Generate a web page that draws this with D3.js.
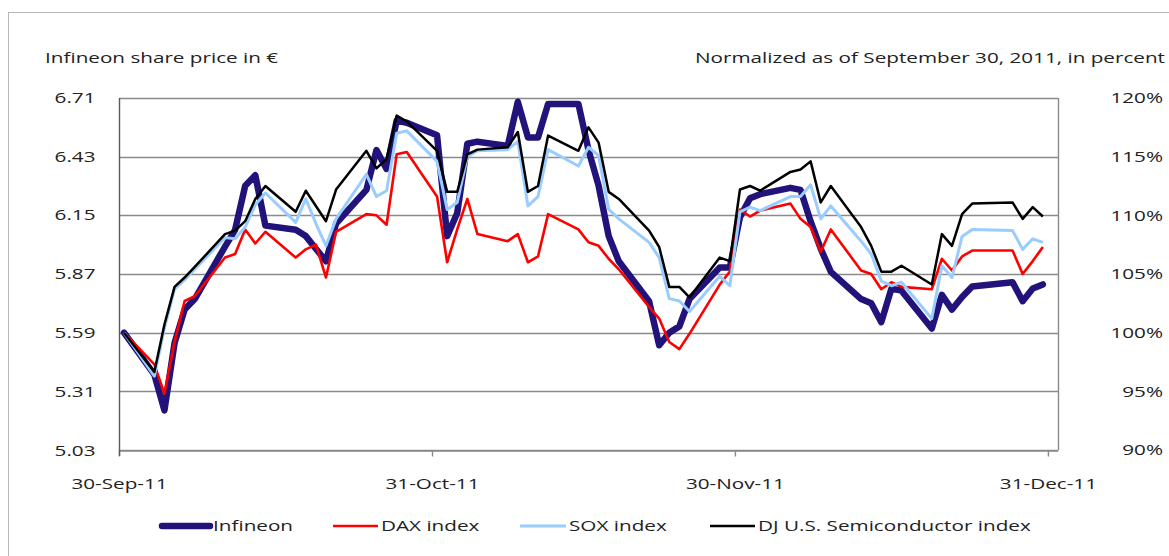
<!DOCTYPE html>
<html>
<head>
<meta charset="utf-8">
<script src="https://cdn.jsdelivr.net/npm/d3@7"></script>
<style>
  html, body { margin: 0; padding: 0; background: #fff; }
  svg { display: block; }
  text { font-family: "Open Sans", "Liberation Sans", sans-serif; font-size: 15px; fill: #222; }
</style>
</head>
<body>
<svg id="chart" width="1169" height="556"></svg>
<script>
// ---------- DATA ----------
const dates = [
  "2011-09-30",
  "2011-10-03","2011-10-04","2011-10-05","2011-10-06","2011-10-07",
  "2011-10-10","2011-10-11","2011-10-12","2011-10-13","2011-10-14",
  "2011-10-17","2011-10-18","2011-10-19","2011-10-20","2011-10-21",
  "2011-10-24","2011-10-25","2011-10-26","2011-10-27","2011-10-28",
  "2011-10-31","2011-11-01","2011-11-02","2011-11-03","2011-11-04",
  "2011-11-07","2011-11-08","2011-11-09","2011-11-10","2011-11-11",
  "2011-11-14","2011-11-15","2011-11-16","2011-11-17","2011-11-18",
  "2011-11-21","2011-11-22","2011-11-23","2011-11-24","2011-11-25",
  "2011-11-28","2011-11-29","2011-11-30","2011-12-01","2011-12-02",
  "2011-12-05","2011-12-06","2011-12-07","2011-12-08","2011-12-09",
  "2011-12-12","2011-12-13","2011-12-14","2011-12-15","2011-12-16",
  "2011-12-19","2011-12-20","2011-12-21","2011-12-22","2011-12-23",
  "2011-12-27","2011-12-28","2011-12-29","2011-12-30"
];
// Infineon share price in EUR (left axis)
const infineon = [
  5.59,
  5.39,5.22,5.54,5.70,5.75,
  6.00,6.08,6.29,6.34,6.10,
  6.08,6.05,5.99,5.93,6.11,
  6.27,6.46,6.37,6.60,6.59,
  6.53,6.05,6.16,6.49,6.50,
  6.48,6.69,6.52,6.52,6.68,
  6.68,6.46,6.29,6.05,5.93,
  5.74,5.53,5.59,5.62,5.75,
  5.90,5.90,6.14,6.23,6.25,
  6.28,6.27,6.12,5.99,5.88,
  5.75,5.73,5.64,5.80,5.79,
  5.61,5.77,5.70,5.76,5.81,
  5.83,5.74,5.80,5.82
];
// Normalized indices in percent (right axis)
const dax = [
  100,
  97.3,94.8,99.2,102.7,103.1,
  106.4,106.7,108.8,107.6,108.6,
  106.4,107.1,107.5,104.7,108.6,
  110.1,110.0,109.2,115.2,115.4,
  111.6,106.0,108.8,111.4,108.4,
  107.8,108.4,106.0,106.5,110.1,
  108.8,107.7,107.4,106.3,105.4,
  102.2,101.2,99.2,98.6,99.9,
  104.1,105.2,110.5,109.9,110.4,
  111.0,109.7,109.0,106.9,108.8,
  105.3,105.0,103.7,104.3,103.9,
  103.7,106.3,105.3,106.5,107.0,
  107.0,105.0,106.1,107.3
];
const sox = [
  100,
  96.3,100.4,103.7,104.5,105.4,
  108.1,108.0,109.0,110.9,111.9,
  109.4,111.4,109.3,107.4,109.7,
  113.5,111.6,112.1,117.0,117.2,
  114.6,110.5,111.1,115.0,115.5,
  115.6,116.3,110.8,111.6,115.6,
  114.2,115.8,115.1,110.5,109.7,
  107.7,106.4,102.9,102.7,101.8,
  104.8,104.0,110.3,110.7,110.4,
  111.6,111.6,112.6,109.7,110.8,
  107.8,106.7,104.4,104.0,104.3,
  101.2,105.7,104.7,108.2,108.8,
  108.7,107.1,108.0,107.7
];
const djus = [
  100,
  96.65,100.7,103.9,104.7,105.6,
  108.4,108.7,109.5,111.4,112.5,
  110.3,112.1,110.8,109.5,112.2,
  115.5,114.0,114.8,118.5,118.0,
  115.5,112.0,112.0,115.2,115.6,
  115.8,117.1,112.0,112.5,116.8,
  115.5,117.5,116.2,112.0,111.4,
  108.7,107.3,103.9,103.9,103.0,
  106.4,106.1,112.2,112.5,112.1,
  113.7,113.9,114.6,111.1,112.5,
  109.0,107.4,105.2,105.2,105.7,
  104.1,108.4,107.4,110.1,111.0,
  111.1,109.7,110.7,109.9
];
const leftTicks = [5.03, 5.31, 5.59, 5.87, 6.15, 6.43, 6.71];
const rightTicks = [90, 95, 100, 105, 110, 115, 120];
const xTickDates = ["2011-09-30", "2011-10-31", "2011-11-30", "2011-12-31"];
const xTickLabels = ["30-Sep-11", "31-Oct-11", "30-Nov-11", "31-Dec-11"];
const seriesNames = ["Infineon", "DAX index", "SOX index", "DJ U.S.  Semiconductor index"];
const leftTitle = "Infineon share price in €";
const rightTitle = "Normalized as of September 30, 2011, in percent";

// ---------- DRAWING ----------
const svg = d3.select("#chart");
const parse = d3.timeParse("%Y-%m-%d");
const L = 119, R = 1058, T = 98, B = 450;

const x = d3.scaleTime()
  .domain([parse("2011-09-30"), parse("2012-01-01")])
  .range([L, R]);
const yPct = d3.scaleLinear().domain([90, 120]).range([B, T]);
const yPrice = d3.scaleLinear().domain([5.59 * 0.9, 5.59 * 1.2]).range([B, T]);

const halfDay = 12 * 3600 * 1000;
const px = d => x(new Date(parse(d).getTime() + halfDay));

// outer frame
svg.append("rect").attr("x", 8.5).attr("y", 12.5).attr("width", 1200).attr("height", 600)
  .attr("fill", "none").attr("stroke", "#b8b8b8").attr("stroke-width", 1);

// gridlines
svg.append("g").selectAll("line").data(rightTicks).join("line")
  .attr("x1", L).attr("x2", R)
  .attr("y1", d => Math.round(yPct(d)) + 0.5).attr("y2", d => Math.round(yPct(d)) + 0.5)
  .attr("stroke", "#8a8a8a").attr("stroke-width", 1.4);

// right axis line
svg.append("line").attr("x1", R + 0.5).attr("x2", R + 0.5).attr("y1", T).attr("y2", B)
  .attr("stroke", "#8a8a8a").attr("stroke-width", 1.4);

// bottom axis
const xAxis = d3.axisBottom(x)
  .tickValues(xTickDates.map(parse))
  .tickFormat((d, i) => xTickLabels[i])
  .tickSizeInner(6).tickSizeOuter(0).tickPadding(22);
const gx = svg.append("g").attr("transform", `translate(0,${B + 0.5})`).call(xAxis);
gx.select(".domain").attr("stroke", "#8a8a8a").attr("stroke-width", 1.4);
gx.selectAll(".tick line").attr("stroke", "#8a8a8a").attr("stroke-width", 1.4);
gx.selectAll("text").attr("fill", "#222").style("font-size", "15px").style("font-family", null);

// left axis
const yAxisL = d3.axisLeft(yPrice)
  .tickValues(leftTicks).tickFormat(d3.format(".2f"))
  .tickSize(0).tickPadding(24);
const gl = svg.append("g").attr("transform", `translate(${L + 0.5},0)`).call(yAxisL);
gl.select(".domain").remove();
gl.selectAll("text").attr("fill", "#222").style("font-size", "15px").style("font-family", null);
svg.append("line").attr("x1", L + 0.5).attr("x2", L + 0.5).attr("y1", T).attr("y2", B + 6)
  .attr("stroke", "#5a5a5a").attr("stroke-width", 1.4);

// right axis labels
const yAxisR = d3.axisRight(yPct)
  .tickValues(rightTicks).tickFormat(d => d + "%")
  .tickSize(0).tickPadding(105);
const gr = svg.append("g").attr("transform", `translate(${R},0)`).call(yAxisR);
gr.select(".domain").remove();
gr.selectAll("text").attr("fill", "#222").attr("text-anchor", "end")
  .style("font-size", "15px").style("font-family", null);

// lines
const idx = d3.range(dates.length);
const linePrice = d3.line().x(i => px(dates[i])).y(i => yPrice(infineon[i]));
const makePct = arr => d3.line().x(i => px(dates[i])).y(i => yPct(arr[i]));

const colors = ["#21137a", "#ff0000", "#99ccff", "#000000"];
const widths = [6.5, 2.6, 3, 2.5];

svg.append("path").attr("d", linePrice(idx)).attr("fill", "none")
  .attr("stroke", colors[0]).attr("stroke-width", widths[0])
  .attr("stroke-linejoin", "round").attr("stroke-linecap", "round");
[dax, sox, djus].forEach((arr, k) => {
  svg.append("path").attr("d", makePct(arr)(idx)).attr("fill", "none")
    .attr("stroke", colors[k + 1]).attr("stroke-width", widths[k + 1])
    .attr("stroke-linejoin", "round");
});

// titles
svg.append("text").attr("class", "title").attr("x", 45).attr("y", 63).text(leftTitle);
svg.append("text").attr("class", "title").attr("x", 1165).attr("y", 63)
  .attr("text-anchor", "end").text(rightTitle);

// legend
const legX = [162, 333, 520, 710];
const legLen = [48, 45, 46, 45];
const legY = 526;
const lg = svg.append("g");
seriesNames.forEach((name, i) => {
  lg.append("line").attr("x1", legX[i]).attr("x2", legX[i] + legLen[i])
    .attr("y1", legY).attr("y2", legY)
    .attr("stroke", colors[i]).attr("stroke-width", widths[i])
    .attr("stroke-linecap", i === 0 ? "round" : "butt");
  lg.append("text").attr("x", legX[i] + legLen[i] + 3).attr("y", legY + 5).text(name);
});

// horizontal stretch of text to match the reference's wide lettering
const rt = svg.selectAll("text.title").filter((d, i) => i === 1).node();
const k = 470 / rt.getComputedTextLength();
svg.selectAll("text").each(function() {
  const w = this.getComputedTextLength();
  d3.select(this).attr("textLength", w * k).attr("lengthAdjust", "spacingAndGlyphs");
});
</script>
</body>
</html>
